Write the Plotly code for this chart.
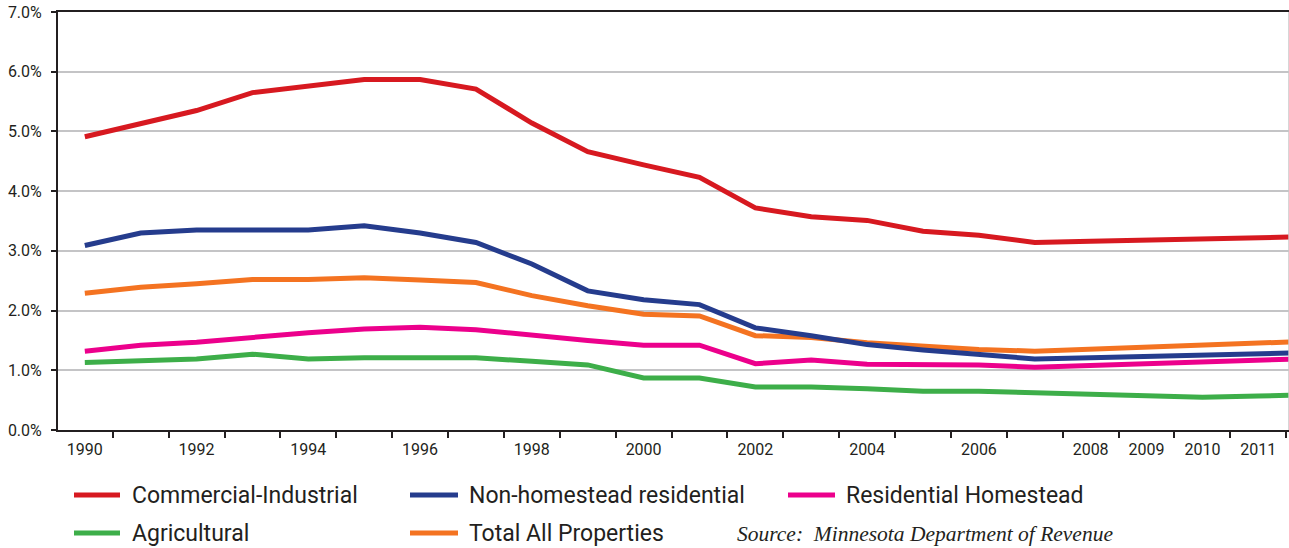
import plotly.graph_objects as go

years = list(range(1990, 2013))
commercial_industrial = [4.91, 5.14, 5.35, 5.65, 5.77, 5.87, 5.87, 5.71, 5.14, 4.66, 4.44, 4.23, 3.72, 3.57, 3.51, 3.33, 3.26, 3.14, 3.16, 3.18, 3.20, 3.22, 3.24]
non_homestead_res = [3.09, 3.30, 3.35, 3.35, 3.35, 3.42, 3.30, 3.14, 2.78, 2.33, 2.18, 2.10, 1.71, 1.58, 1.43, 1.34, 1.27, 1.19, 1.21, 1.23, 1.25, 1.28, 1.30]
residential_homestead = [1.32, 1.42, 1.47, 1.56, 1.63, 1.69, 1.72, 1.68, 1.58, 1.50, 1.42, 1.42, 1.11, 1.17, 1.10, 1.09, 1.09, 1.05, 1.08, 1.11, 1.14, 1.17, 1.20]
agricultural = [1.13, 1.15, 1.19, 1.27, 1.19, 1.21, 1.21, 1.21, 1.15, 1.09, 0.87, 0.87, 0.72, 0.72, 0.69, 0.65, 0.65, 0.63, 0.61, 0.58, 0.55, 0.57, 0.59]
total_all = [2.29, 2.39, 2.45, 2.52, 2.52, 2.55, 2.51, 2.47, 2.25, 2.08, 1.94, 1.91, 1.58, 1.55, 1.46, 1.40, 1.35, 1.32, 1.35, 1.38, 1.42, 1.45, 1.49]

series_names = ["Commercial-Industrial", "Non-homestead residential", "Residential Homestead", "Agricultural", "Total All Properties"]
series_colors = ["#D71920", "#253C8D", "#EC008C", "#3DAE49", "#F47321"]
series_values = [commercial_industrial, non_homestead_res, residential_homestead, agricultural, total_all]

tick_label_years = [1990, 1992, 1994, 1996, 1998, 2000, 2002, 2004, 2006, 2008, 2009, 2010, 2011]
y_ticks = [0, 1, 2, 3, 4, 5, 6, 7]
source_text = "Source:  Minnesota Department of Revenue"

W, H = 1289, 548
L, R, T, B = 58, 0, 12, 118
PW, PH = W - L - R, H - T - B

def px(x):
    return (x - L) / PW

def py(y):
    return (H - B - y) / PH

fig = go.Figure()
order = [3, 2, 4, 1, 0]
for i in order:
    fig.add_trace(go.Scatter(
        x=years, y=series_values[i], mode="lines", name=series_names[i],
        line=dict(color=series_colors[i], width=5), showlegend=False,
        cliponaxis=True,
    ))

fig.add_trace(go.Scatter(x=[years[0]], y=[0], xaxis="x2", mode="markers",
                         marker=dict(opacity=0), showlegend=False, hoverinfo="skip"))

xr = [1989.52, 2011.55]
font_main = "Roboto, 'Open Sans', sans-serif"
fig.update_layout(
    width=W, height=H,
    margin=dict(l=L, r=R, t=T, b=B),
    paper_bgcolor="white", plot_bgcolor="white",
    font=dict(family=font_main, color="#231F20"),
    xaxis=dict(range=xr, tickvals=[y - 0.5 for y in range(1990, 2013)],
               showticklabels=False, ticks="outside", ticklen=6, tickwidth=2,
               tickcolor="#231F20", showline=True, linecolor="#231F20", linewidth=2,
               mirror=True, showgrid=False, zeroline=False),
    xaxis2=dict(range=xr, overlaying="x", anchor="y", side="bottom",
                tickvals=tick_label_years, ticktext=[str(v) for v in tick_label_years],
                ticks="", showgrid=False, zeroline=False, showline=False,
                tickfont=dict(size=16, color="#231F20"), ticklabelstandoff=8),
    yaxis=dict(range=[0, 7], tickvals=y_ticks, ticktext=[f"{v:.1f}%" for v in y_ticks],
               ticks="outside", ticklen=5, tickwidth=2, tickcolor="#231F20",
               showline=True, linecolor="#231F20", linewidth=2,
               showgrid=True, gridcolor="#C4C4C6", gridwidth=1.5, zeroline=False,
               tickfont=dict(size=16, color="#231F20"), ticklabelstandoff=6),
)

fig.add_shape(type="line", xref="paper", yref="paper", x0=1, x1=1, y0=0, y1=1,
              line=dict(color="#C8C8CA", width=1.5))

legend_items = [
    (0, 74, 120, 130, 495),
    (1, 410, 458, 467, 495),
    (2, 788, 835, 844, 495),
    (3, 74, 120, 130, 533),
    (4, 410, 458, 467, 533),
]
for idx, x0, x1, tx, yy in legend_items:
    fig.add_shape(type="line", xref="paper", yref="paper",
                  x0=px(x0), x1=px(x1), y0=py(yy), y1=py(yy),
                  line=dict(color=series_colors[idx], width=5))
    fig.add_annotation(xref="paper", yref="paper", x=px(tx), y=py(yy),
                       text=series_names[idx], showarrow=False, xanchor="left", yanchor="middle",
                       font=dict(size=23, color="#231F20", family=font_main))

fig.add_annotation(xref="paper", yref="paper", x=px(735), y=py(534),
                   text="<i>" + source_text + "</i>", showarrow=False,
                   xanchor="left", yanchor="middle",
                   font=dict(size=21.5, color="#231F20", family="'Liberation Serif', serif"))

fig.write_html("out.html")
